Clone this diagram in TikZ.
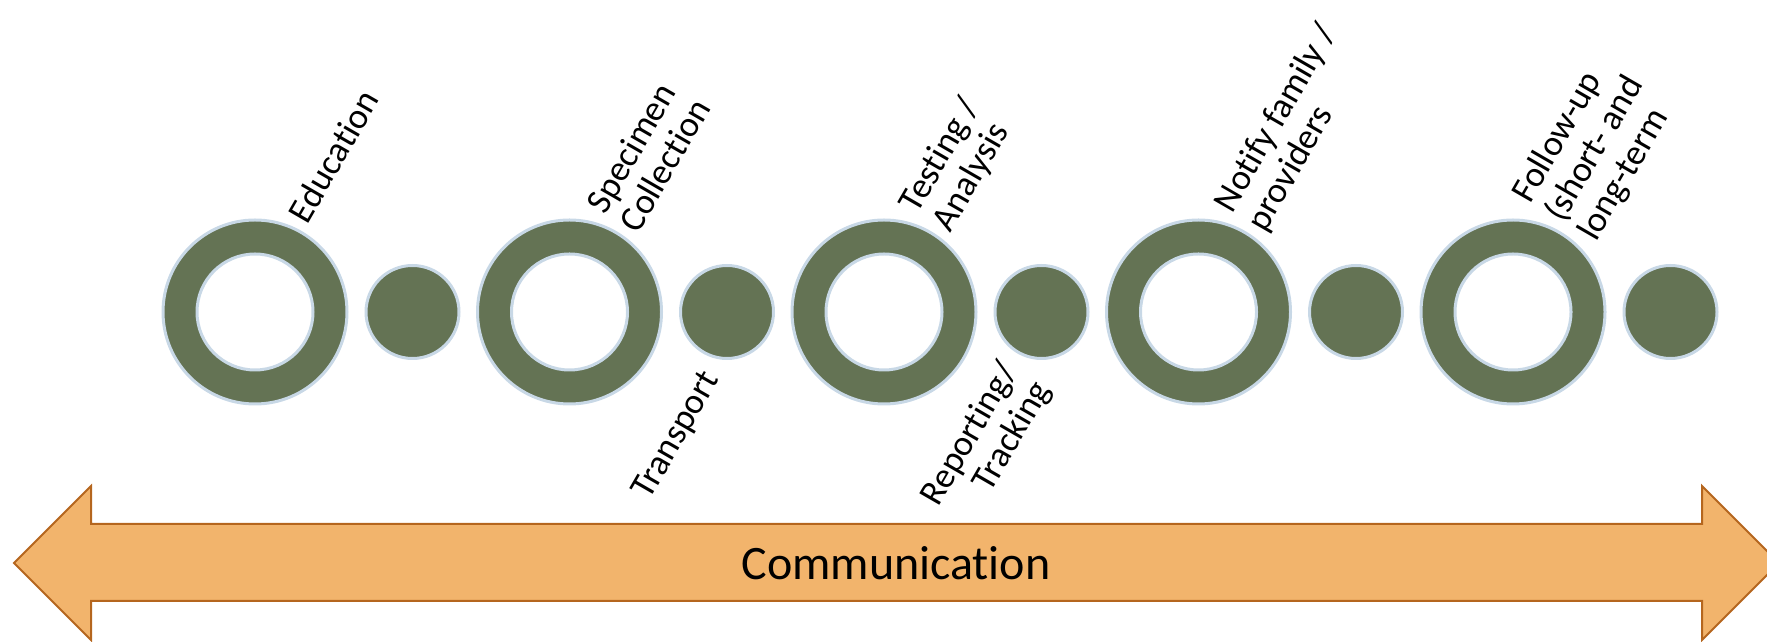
\documentclass[tikz,border=0pt]{standalone}
\usepackage{fontspec}
\setmainfont{Carlito}[Ligatures=NoCommon]
\definecolor{ringgreen}{RGB}{100,115,84}
\definecolor{rimblue}{RGB}{200,216,230}
\definecolor{bandfill}{RGB}{242,180,108}
\definecolor{bandedge}{RGB}{181,102,30}
\begin{document}
\begin{tikzpicture}[x=1pt,y=1pt,
  ring/.style={circle, minimum size=184pt, inner sep=0pt, fill=ringgreen, draw=rimblue, line width=3pt},
  hole/.style={circle, minimum size=116pt, inner sep=0pt, fill=white, draw=rimblue, line width=3pt},
  dot/.style={circle, minimum size=93pt, inner sep=0pt, fill=ringgreen, draw=rimblue, line width=3pt},
  toplabel/.style={rotate=60, anchor=west, align=left, inner sep=0pt, font=\fontsize{36}{38}\selectfont},
  botlabel/.style={rotate=60, anchor=east, align=right, inner sep=0pt, font=\fontsize{36}{38}\selectfont},
]
\useasboundingbox (0,0) rectangle (1767,642);

% double-headed band along the bottom
\begin{scope}
  \clip (0,0) rectangle (1767,642);
  \draw[fill=bandfill, draw=bandedge, line width=2pt, line join=miter]
    (14,79) -- (91,156) -- (91,118) -- (1702,118) -- (1702,156) -- (1779,79)
    -- (1702,2) -- (1702,41) -- (91,41) -- (91,2) -- cycle;
\end{scope}
\node (comm) at (896,79) {\fontsize{48}{58}\selectfont Communication};

% rings and dots of the timeline
\foreach \i in {1,...,5} {
  \pgfmathsetmacro\rx{255+314.5*(\i-1)}
  \node[ring] (ring\i) at (\rx,330) {};
  \node[hole] (hole\i) at (ring\i) {};
  \node[dot] (dot\i) at (\rx+157.5,330) {};
}

% step labels
\node[toplabel] (lab1) at ([shift={(42,93)}]ring1.center) {Education};
\node[toplabel] (lab2) at ([shift={(42,93)}]ring2.center) {Specimen\\Collection};
\node[toplabel] (lab3) at ([shift={(42,93)}]ring3.center) {Testing /\\Analysis};
\node[toplabel] (lab4) at ([shift={(42,93)}]ring4.center) {Notify family /\\providers};
\node[toplabel] (lab5) at ([shift={(42,93)}]ring5.center) {Follow-up\\(short- and\\long-term};
\node[botlabel] (lab6) at ([shift={(-15,-63)}]dot2.center) {Transport};
\node[botlabel] (lab7) at ([shift={(-15,-63)}]dot3.center) {Reporting/\\Tracking};
\end{tikzpicture}
\end{document}
